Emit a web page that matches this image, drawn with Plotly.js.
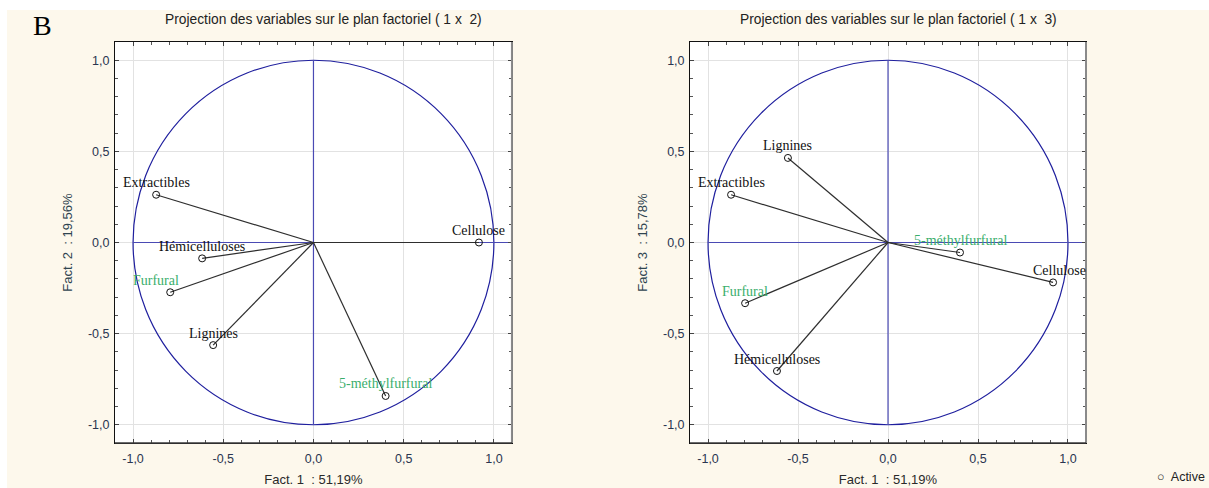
<!DOCTYPE html>
<html>
<head>
<meta charset="utf-8">
<script src="https://cdn.plot.ly/plotly-3.0.1.min.js"></script>
<style>
  html, body { margin: 0; padding: 0; background: #ffffff; }
  #chart { position: absolute; left: 7px; top: 10px; width: 1202px; height: 478px; }
</style>
</head>
<body>
<div id="chart"></div>
<script>
// ---- data ----
const variables = ['Extractibles', 'Hémicelluloses', 'Furfural', 'Lignines', 'Cellulose', '5-méthylfurfural'];
const fact1 = [-0.872, -0.617, -0.794, -0.556, 0.917, 0.400];
const fact2 = [0.262, -0.087, -0.273, -0.563, 0.000, -0.842];
const fact3 = [0.262, -0.705, -0.333, 0.464, -0.219, -0.055];
const supplementary = [false, false, true, false, false, true];
const tickValues = [-1, -0.5, 0, 0.5, 1];
const tickLabels = ['-1,0', '-0,5', '0,0', '0,5', '1,0'];
const titles = ['Projection des variables sur le plan factoriel (\u00A01\u00A0x\u00A0\u00A02)',
                'Projection des variables sur le plan factoriel (\u00A01\u00A0x\u00A0\u00A03)'];
const xTitle = 'Fact. 1\u00A0\u00A0: 51,19%';
const yTitles = ['Fact. 2\u00A0\u00A0: 19,56%', 'Fact. 3\u00A0\u00A0: 15,78%'];
const legendLabel = 'Active';

// ---- style ----
const LIM = 1.1;
const labelFont = 'Liberation Serif, Times New Roman, serif';
const sansFont = 'Liberation Sans, Arial, sans-serif';
const green = '#3aae6c';
const circleColor = '#1f1f9e';
const crossColor = '#4a4ab4';
const labelShift = [[{}, {}, {x: -14}, {}, {}, {}], [{}, {}, {}, {}, {x: 6}, {}]];

const ys = [fact2, fact3];
const traces = [];
const shapes = [];
const annotations = [];

ys.forEach((yv, k) => {
  const xa = k === 0 ? 'x' : 'x2';
  const ya = k === 0 ? 'y' : 'y2';
  // vectors from origin
  const lx = [], ly = [];
  fact1.forEach((v, i) => { lx.push(0, v, null); ly.push(0, yv[i], null); });
  traces.push({
    x: lx, y: ly, xaxis: xa, yaxis: ya, mode: 'lines',
    line: {color: '#2e2e2e', width: 1.2}, hoverinfo: 'skip', showlegend: false
  });
  traces.push({
    x: fact1, y: yv, xaxis: xa, yaxis: ya, mode: 'markers', text: variables,
    marker: {symbol: 'circle-open', size: 7, color: '#111', line: {width: 1}},
    showlegend: false, name: legendLabel
  });
  // correlation circle
  shapes.push({type: 'circle', xref: xa, yref: ya, x0: -1, y0: -1, x1: 1, y1: 1,
               line: {color: circleColor, width: 1.2}, layer: 'between'});
  // cross lines
  shapes.push({type: 'line', xref: xa, yref: ya, x0: -1, x1: LIM, y0: 0, y1: 0,
               line: {color: crossColor, width: 1.2}, layer: 'between'});
  shapes.push({type: 'line', xref: xa, yref: ya, x0: 0, x1: 0, y0: -1, y1: 1,
               line: {color: crossColor, width: 1.2}, layer: 'between'});
  // frame: grey right/bottom
  const xd = xa + ' domain', yd = ya + ' domain';
  shapes.push({type: 'line', xref: xd, yref: yd, x0: 1, x1: 1, y0: 0, y1: 1,
               line: {color: '#8a8a8a', width: 2}});
  shapes.push({type: 'line', xref: xd, yref: yd, x0: 0, x1: 1, y0: 0, y1: 0,
               line: {color: '#3a3a3a', width: 1.5}});
  // labels
  variables.forEach((name, i) => {
    const s = labelShift[k][i];
    annotations.push({
      xref: xa, yref: ya, x: fact1[i], y: yv[i], text: name, showarrow: false,
      xshift: s.x || 0, yshift: 12,
      font: {family: labelFont, size: 14, color: supplementary[i] ? green : '#111'}
    });
  });
  // subplot titles
  annotations.push({
    xref: xd, yref: yd, x: 0.5, y: 1, xshift: 10, yshift: 23, yanchor: 'middle', showarrow: false,
    text: titles[k], font: {family: sansFont, size: 13.8, color: '#222'}
  });
});

annotations.push({
  xref: 'paper', yref: 'paper', x: -0.075, y: 1, yshift: 17, xanchor: 'center', yanchor: 'middle',
  showarrow: false, text: 'B', font: {family: labelFont, size: 28, color: '#000'}
});
annotations.push({
  xref: 'paper', yref: 'paper', x: 1.1246, y: 0, yshift: -34, xanchor: 'right', yanchor: 'middle',
  showarrow: false, text: '\u25CB\u00A0 ' + legendLabel, font: {family: sansFont, size: 12.5, color: '#222'}
});

function axis(domain, titleText, anchor, isY) {
  return {
    domain: domain, anchor: anchor, range: [-LIM, LIM], fixedrange: true,
    tickmode: 'array', tickvals: tickValues, ticktext: tickLabels,
    ticks: 'inside', ticklen: 4, tickcolor: '#444',
    ticklabelstandoff: isY ? 2 : 4,
    minor: {dtick: 0.1, tick0: 0, ticks: 'inside', ticklen: 3, tickcolor: '#555', showgrid: false},
    showgrid: true, gridcolor: '#e2e2e2', gridwidth: 1, zeroline: false,
    showline: true, linecolor: '#111', linewidth: 1, mirror: 'ticks',
    tickfont: {family: sansFont, size: 12.5, color: '#2a3550'},
    title: {text: titleText, font: {family: sansFont, size: 13, color: isY ? '#2f4450' : '#2a2a2a'},
            standoff: isY ? 12 : 9}
  };
}

const dA = [0, 0.4088], dB = [0.5922, 1];
const layout = {
  width: 1202, height: 478,
  margin: {l: 108, r: 123, t: 32, b: 45, autoexpand: false},
  paper_bgcolor: '#fdf8ec', plot_bgcolor: '#ffffff',
  showlegend: false,
  xaxis: axis(dA, xTitle, 'y', false),
  yaxis: axis([0, 1], yTitles[0], 'x', true),
  xaxis2: axis(dB, xTitle, 'y2', false),
  yaxis2: axis([0, 1], yTitles[1], 'x2', true),
  shapes: shapes, annotations: annotations
};

Plotly.newPlot('chart', traces, layout, {displayModeBar: false, staticPlot: true});
</script>
</body>
</html>
